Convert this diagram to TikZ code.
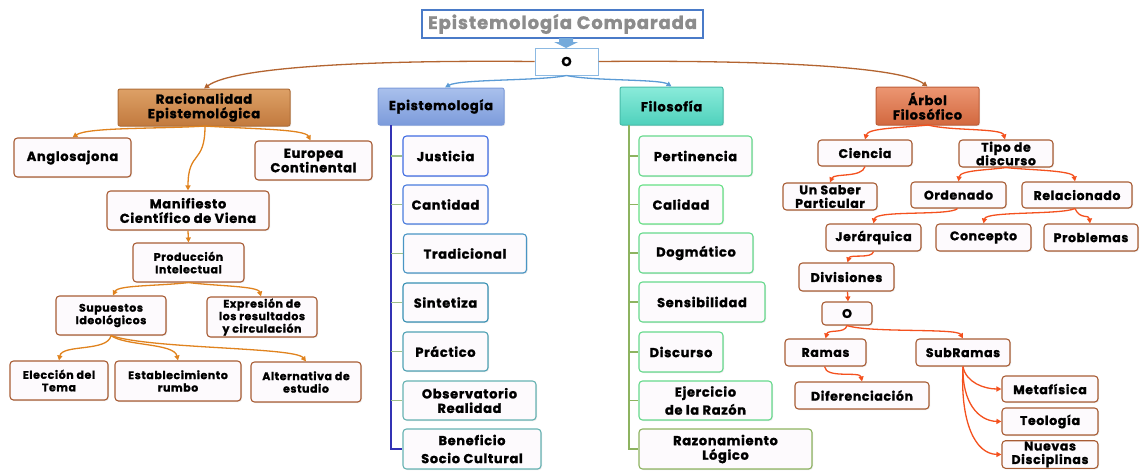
\documentclass[tikz,border=0pt]{standalone}
\usepackage{fontspec}
\setmainfont{Poppins}[LetterSpace=5, BoldFeatures={FakeBold=1.2}]
\usetikzlibrary{arrows.meta,shadows}
\definecolor{bxfill}{HTML}{FDFAFD}
\definecolor{brn}{HTML}{A85C34}
\definecolor{org}{HTML}{E0831E}
\definecolor{redo}{HTML}{F4511E}
\definecolor{lblue}{HTML}{5B9BD5}
\definecolor{tblue}{HTML}{4A7BC8}
\definecolor{dblue}{HTML}{3232B4}
\definecolor{stub}{HTML}{9DBE8A}
\definecolor{grn}{HTML}{8DB360}
\definecolor{racT}{HTML}{DDA066}
\definecolor{racB}{HTML}{C27A3E}
\definecolor{epiT}{HTML}{A9C0EC}
\definecolor{epiB}{HTML}{7C9BDB}
\definecolor{filT}{HTML}{8AEBDA}
\definecolor{filB}{HTML}{4FD1BC}
\definecolor{arbT}{HTML}{EC9672}
\definecolor{arbB}{HTML}{D2683F}
\tikzset{
  x=1pt, y=-1pt,
  bx/.style={draw=brn, fill=bxfill, rounded corners=3.5pt, line width=1.1pt,
    align=center, inner sep=1pt, font=\bfseries\fontsize{13}{14.5}\selectfont,
    drop shadow={opacity=0.2, shadow xshift=1pt, shadow yshift=-1pt}},
  sm/.style={font=\bfseries\fontsize{11}{12.5}\selectfont},
  rt/.style={font=\bfseries\fontsize{12.5}{13.5}\selectfont},
  hdr/.style={bx, rounded corners=2pt, line width=1pt},
  oarr/.style={draw=org, line width=1.3pt, -{Triangle[length=5pt,width=5pt]}},
  rarr/.style={draw=redo, line width=1.3pt, -{Triangle[length=5pt,width=5pt]}},
  barr/.style={draw=lblue, line width=1.3pt, -{Triangle[length=5pt,width=5pt]}},
  brarr/.style={draw=brn!80!org, line width=1.3pt, -{Triangle[length=5pt,width=5pt]}},
}
\newcommand\bxat[6]{\node[#1, minimum width=#4pt, minimum height=#5pt] (#2) at (#3) {#6};}
\begin{document}
\begin{tikzpicture}
\useasboundingbox (0,0) rectangle (1142,472);
% title
\node[draw=tblue, line width=2.5pt, fill=white, minimum width=281pt, minimum height=28pt,
  font=\bfseries\fontsize{18}{20}\selectfont, text=gray!90] (title) at (562.5,24) {Epistemología Comparada};
\node[draw=lblue!70, fill=white, line width=1pt, minimum width=63pt, minimum height=27pt,
  font=\bfseries\fontsize{13}{14}\selectfont] (o1) at (566.5,61.5) {O};
\fill[lblue!85] (559,38) -- (573,38) -- (573,42) -- (578,42) -- (566,48) -- (554,42) -- (559,42) -- cycle;
% headers
\bxat{hdr, draw=racB!90!black, top color=racT, bottom color=racB}{rac}{204,107.5}{172}{37}{Racionalidad\\Epistemológica}
\bxat{hdr, draw=epiB, top color=epiT, bottom color=epiB}{epi}{441,106.5}{126}{37}{Epistemología}
\bxat{hdr, draw=filB!90!black, top color=filT, bottom color=filB}{fil}{671.5,106}{103}{38}{Filosofía}
\bxat{hdr, draw=arbB!90!black, top color=arbT, bottom color=arbB}{arb}{927.5,106}{103}{38}{Árbol\\Filosófico}
% left branch
\bxat{bx}{ang}{72.5,157.5}{117}{39}{Anglosajona}
\bxat{bx}{eur}{313.5,160.5}{117}{39}{Europea\\Continental}
\bxat{bx}{man}{188,210.5}{162}{39}{Manifiesto\\Científico de Viena}
\bxat{bx,sm}{pro}{188.5,262.5}{111}{39}{Producción\\Intelectual}
\bxat{bx,sm}{sup}{111,315.5}{110}{39}{Supuestos\\Ideológicos}
\bxat{bx,sm}{exp}{262,317}{110}{40}{Expresión de\\los resultados\\y circulación}
\bxat{bx,sm}{ele}{59,380.5}{98}{39}{Elección del\\Tema}
\bxat{bx,sm}{est}{178,381}{126}{40}{Establecimiento\\rumbo}
\bxat{bx,sm}{alt}{306,382}{110}{40}{Alternativa de\\estudio}
% epistemologia column
\bxat{bx, draw=blue!30!lblue}{e1}{445.5,156}{85}{40}{Justicia}
\bxat{bx, draw=blue!20!lblue}{e2}{445.5,204.5}{85}{39}{Cantidad}
\bxat{bx, draw=lblue!80!teal}{e3}{465,253.5}{123}{39}{Tradicional}
\bxat{bx, draw=lblue!60!teal}{e4}{445.5,302.5}{85}{39}{Sintetiza}
\bxat{bx, draw=lblue!40!teal!80}{e5}{445.5,351.5}{85}{39}{Práctico}
\bxat{bx, draw=teal!60}{e6}{469.5,400.5}{133}{39}{Observatorio\\Realidad}
\bxat{bx, draw=teal!60, font=\bfseries\fontsize{13}{18}\selectfont}{e7}{472,449}{138}{40}{Beneficio\\Socio Cultural}
% filosofia column
\bxat{bx, draw=teal!50!green!60}{f1}{695.5,156}{113}{40}{Pertinencia}
\bxat{bx, draw=teal!40!green!60}{f2}{681,204.5}{84}{39}{Calidad}
\bxat{bx, draw=green!50!teal!60}{f3}{696,253}{114}{40}{Dogmático}
\bxat{bx, draw=green!50!teal!60}{f4}{702,302}{126}{40}{Sensibilidad}
\bxat{bx, draw=green!50!teal!60}{f5}{681,352}{84}{40}{Discurso}
\bxat{bx, draw=green!50!teal!60, font=\bfseries\fontsize{13}{18}\selectfont}{f6}{705.5,400.5}{133}{39}{Ejercicio\\de la Razón}
\bxat{bx, draw=grn}{f7}{725.5,449}{173}{40}{Razonamiento\\Lógico}
% right branch
\bxat{bx,rt}{cie}{865,153}{94}{26}{Ciencia}
\bxat{bx,rt}{tip}{1006,153.5}{94}{27}{Tipo de\\discurso}
\bxat{bx,rt}{uns}{830,196.5}{94}{27}{Un Saber\\Particular}
\bxat{bx,rt}{ord}{958.5,195}{95}{26}{Ordenado}
\bxat{bx,rt}{rel}{1077,195}{110}{26}{Relacionado}
\bxat{bx,rt}{jer}{873.5,237.5}{95}{27}{Jerárquica}
\bxat{bx,rt}{con}{983.5,237.5}{95}{27}{Concepto}
\bxat{bx,rt}{prb}{1091,237.5}{94}{27}{Problemas}
\bxat{bx,rt}{div}{846.5,277}{95}{28}{Divisiones}
\bxat{bx,rt}{o2}{847,313.5}{50}{23}{O}
\bxat{bx,rt}{ram}{825.5,352.5}{81}{27}{Ramas}
\bxat{bx,rt}{sub}{963,352.5}{94}{27}{SubRamas}
\bxat{bx,rt}{dif}{862,395.5}{134}{27}{Diferenciación}
\bxat{bx,rt}{met}{1050,389}{96}{26}{Metafísica}
\bxat{bx,rt}{teo}{1050,421.5}{96}{27}{Teología}
\bxat{bx,rt}{nue}{1050,454.5}{96}{27}{Nuevas\\Disciplinas}
% top connectors
\draw[brarr] (o1.west) .. controls (380,60) and (235,66) .. (rac.north);
\draw[brarr] (o1.east) .. controls (760,60) and (900,66) .. (arb.north);
\draw[barr] (o1.south) .. controls (540,81) and (460,79) .. ([xshift=4pt]epi.north);
\draw[barr] (o1.south) .. controls (592,81) and (660,79) .. (fil.north);
% left connectors
\coordinate (racb) at (205,126);
\draw[oarr] (racb) .. controls (160,129) and (88,127) .. (ang.north);
\draw[oarr] (racb) .. controls (250,129) and (305,129) .. ([xshift=-3pt]eur.north);
\draw[oarr] (racb) .. controls (205,165) and (188,150) .. (man.north);
\draw[oarr] (man.south) -- (pro.north);
\draw[oarr] (pro.south) .. controls (160,286) and (118,285) .. ([xshift=2pt]sup.north);
\draw[oarr] (pro.south) .. controls (215,286) and (258,286) .. ([xshift=-1pt]exp.north);
\draw[oarr] (sup.south) .. controls (108,352) and (62,344) .. (ele.north);
\draw[oarr] (sup.south) .. controls (125,346) and (174,343) .. (est.north);
\draw[oarr] (sup.south) .. controls (150,349) and (295,347) .. (alt.north);
% tree lines
\draw[dblue, line width=1.2pt] (391,125) -- (391,449) -- (e7.west);
\foreach \n in {e1,e2,e3,e4,e5,e6} \draw[stub, line width=1.2pt] (391,0 |- \n.west) -- (\n.west);
\draw[grn, line width=1.2pt] (629,125) -- (629,449) -- (f7.west);
\foreach \n in {f1,f2,f3,f4,f5,f6} \draw[grn, line width=1.2pt] (629,0 |- \n.west) -- (\n.west);
% right connectors
\coordinate (arbb) at (928,125);
\draw[rarr] (arbb) .. controls (900,128) and (868,128) .. (cie.north);
\draw[rarr] (arbb) .. controls (950,131) and (1002,128) .. ([xshift=-1pt]tip.north);
\draw[rarr] (cie.south) .. controls (862,178) and (834,173) .. (uns.north);
\draw[rarr] (tip.south) .. controls (990,170) and (960,170) .. (ord.north);
\draw[rarr] (tip.south) .. controls (1025,170) and (1073,170) .. ([xshift=-2pt]rel.north);
\draw[rarr] ([xshift=-1pt]ord.south) .. controls (950,216) and (876,210) .. (jer.north);
\draw[rarr] ([xshift=-2pt]rel.south) .. controls (1060,215) and (986,211) .. (con.north);
\draw[rarr] ([xshift=-2pt]rel.south) .. controls (1080,220) and (1089,214) .. ([xshift=-1pt]prb.north);
\draw[rarr] (jer.south) .. controls (872,259) and (850,254) .. ([xshift=1pt]div.north);
\draw[rarr] ([xshift=1pt]div.south) -- ([xshift=1pt]o2.north);
\draw[rarr] (o2.south) .. controls (845,334) and (828,329) .. (ram.north);
\draw[rarr] (o2.south) .. controls (870,333) and (957,328) .. (sub.north);
\draw[rarr] ([xshift=-1pt]ram.south) .. controls (826,379) and (860,371) .. (dif.north);
\draw[rarr] (sub.south) .. controls (966,383) and (985,389) .. (met.west);
\draw[rarr] (sub.south) .. controls (962,402) and (978,421) .. (teo.west);
\draw[rarr] (sub.south) .. controls (960,422) and (975,454) .. (nue.west);
\end{tikzpicture}
\end{document}
